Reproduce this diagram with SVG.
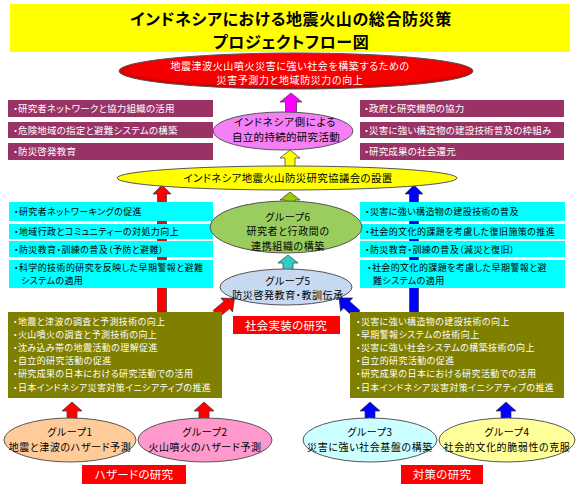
<svg xmlns="http://www.w3.org/2000/svg" width="580" height="487" viewBox="0 0 580 487">
<defs>
<radialGradient id="gRed" cx="50%" cy="45%" r="55%">
<stop offset="0%" stop-color="#ff0000"/><stop offset="85%" stop-color="#f20000"/><stop offset="100%" stop-color="#b00000"/>
</radialGradient>
<style>
text{font-family:"Noto Sans CJK JP","Noto Sans CJK SC",sans-serif;font-feature-settings:"palt";}
.w{fill:#fff;font-size:9px;letter-spacing:0.4px;}
.k{fill:#000;font-size:9px;letter-spacing:0.4px;}
.p{font-size:9.5px;letter-spacing:0.2px;}
.e{font-size:10px;letter-spacing:0.6px;}
.c{text-anchor:middle;}
.pur{fill:#993366;}
.cy{fill:#00ffff;}
.ol{fill:#808000;}
.lab{fill:#ff0000;}
.ell{stroke:#555;stroke-width:1;}
.arr{stroke:#333;stroke-width:0.7;}
</style>
</defs>
<rect width="580" height="487" fill="#fff"/>

<g id="title">
<rect x="10" y="4" width="560" height="48" fill="#ffff00"/>
<text x="291" y="24.5" class="c" style="font-size:16px;font-weight:bold;letter-spacing:0.6px">インドネシアにおける地震火山の総合防災策</text>
<text x="291" y="48" class="c" style="font-size:16px;font-weight:bold;letter-spacing:0.6px">プロジェクトフロー図</text>
</g>

<g id="connectors">
<polygon class="arr" fill="#ff00ff" points="291,93 302,102 296.5,102 296.5,113 285.5,113 285.5,102 280,102"/>
<polygon class="arr" fill="#ffff00" points="290,150 300,158 295,158 295,168 285,168 285,158 280,158"/>
<polygon class="arr" fill="#ff0000" points="162,185 171,194 166.5,194 166.5,312 157.5,312 157.5,194 153,194"/>
<polygon class="arr" fill="#0000ff" points="414,185 423,194 418.5,194 418.5,312 409.5,312 409.5,194 405,194"/>
<polygon class="arr" fill="#99cc00" points="290,192 300,200 295,200 295,204 285,204 285,200 280,200"/>
<polygon class="arr" fill="#33cccc" points="288,255 298,263 293,263 293,270 283,270 283,263 278,263"/>
<polygon class="arr" fill="#ff0000" transform="translate(216,314) rotate(50)" points="0,-24 9,-14 4.5,-14 4.5,0 -4.5,0 -4.5,-14 -9,-14"/>
<polygon class="arr" fill="#0000ff" transform="translate(357,314) rotate(-48)" points="0,-24 9,-14 4.5,-14 4.5,0 -4.5,0 -4.5,-14 -9,-14"/>
<polygon class="arr" fill="#ff0000" points="72,402 82,411 77,411 77,419 67,419 67,411 62,411"/>
<polygon class="arr" fill="#ff0000" points="204,402 214,411 209,411 209,419 199,419 199,411 194,411"/>
<polygon class="arr" fill="#0000ff" points="370,402 380,411 375,411 375,419 365,419 365,411 360,411"/>
<polygon class="arr" fill="#0000ff" points="506,402 516,411 511,411 511,419 501,419 501,411 496,411"/>
</g>

<g id="goal">
<ellipse cx="296" cy="71" rx="177" ry="18" fill="url(#gRed)" class="ell"/>
<text x="290" y="69.5" class="w c e">地震津波火山噴火災害に強い社会を構築するための</text>
<text x="290" y="84" class="w c e">災害予測力と地域防災力の向上</text>
</g>

<g id="left-purple">
<rect x="8" y="100" width="205" height="17" class="pur"/>
<rect x="8" y="122" width="205" height="16" class="pur"/>
<rect x="8" y="143" width="205" height="17" class="pur"/>
<text x="13" y="112" class="w p">・研究者ネットワークと協力組織の活用</text>
<text x="13" y="134" class="w p">・危険地域の指定と避難システムの構築</text>
<text x="13" y="155" class="w p">・防災啓発教育</text>
</g>

<g id="right-purple">
<rect x="360" y="100" width="204" height="17" class="pur"/>
<rect x="360" y="122" width="204" height="16" class="pur"/>
<rect x="360" y="143" width="204" height="17" class="pur"/>
<text x="364" y="112" class="w p">・政府と研究機関の協力</text>
<text x="364" y="134" class="w p">・災害に強い構造物の建設技術普及の枠組み</text>
<text x="364" y="155" class="w p">・研究成果の社会還元</text>
</g>

<g id="indonesia">
<ellipse cx="283" cy="131" rx="70" ry="19" fill="#f580f5" class="ell"/>
<text x="285" y="126" class="k c" style="font-size:10.5px;letter-spacing:0.7px">インドネシア側による</text>
<text x="286" y="141.4" class="k c" style="font-size:10.5px;letter-spacing:0.3px">自立的持続的研究活動</text>
</g>

<g id="council">
<ellipse cx="287" cy="178" rx="170" ry="12" fill="#ffff00" class="ell"/>
<text x="288" y="182" class="k c" style="font-size:10.5px;letter-spacing:0.3px">インドネシア地震火山防災研究協議会の設置</text>
</g>

<g id="left-cyan">
<rect x="9" y="202" width="204" height="19" class="cy"/>
<rect x="9" y="224" width="204" height="15" class="cy"/>
<rect x="9" y="241" width="204" height="16" class="cy"/>
<rect x="9" y="260" width="204" height="28" class="cy"/>
<text x="14" y="215" class="k">・研究者ネットワーキングの促進</text>
<text x="14" y="235" class="k">・地域行政とコミュニティーの対処力向上</text>
<text x="14" y="253" class="k">・防災教育・訓練の普及（予防と避難）</text>
<text x="14" y="270.5" class="k">・科学的技術的研究を反映した早期警報と避難</text>
<text x="21" y="283.7" class="k">システムの適用</text>
</g>

<g id="right-cyan">
<rect x="360" y="202" width="205" height="19" class="cy"/>
<rect x="360" y="224" width="205" height="15" class="cy"/>
<rect x="360" y="241" width="205" height="16" class="cy"/>
<rect x="360" y="260" width="205" height="28" class="cy"/>
<text x="365" y="215" class="k">・災害に強い構造物の建設技術の普及</text>
<text x="365" y="235" class="k">・社会的文化的課題を考慮した復旧施策の推進</text>
<text x="365" y="253" class="k">・防災教育・訓練の普及（減災と復旧）</text>
<text x="367" y="270.5" class="k">・社会的文化的課題を考慮した早期警報と避</text>
<text x="373" y="283.7" class="k">難システムの適用</text>
</g>

<g id="group6">
<ellipse cx="286" cy="227" rx="76" ry="26" fill="#9acd5e" class="ell"/>
<text x="288" y="220.5" class="k c e">グループ6</text>
<text x="288" y="235.2" class="k c e">研究者と行政間の</text>
<text x="288" y="249.9" class="k c e">連携組織の構築</text>
</g>

<g id="group5">
<ellipse cx="286" cy="287" rx="66" ry="18" fill="#c6d9f1" class="ell"/>
<text x="288" y="284.5" class="k c e">グループ5</text>
<text x="288" y="299.2" class="k c e">防災啓発教育・教訓伝承</text>
</g>

<g id="label-impl">
<rect x="233" y="316" width="107" height="18" class="lab"/>
<text x="286" y="329.5" class="w c" style="font-size:11.5px;letter-spacing:0.3px">社会実装の研究</text>
</g>

<g id="left-olive">
<rect x="8" y="312" width="214" height="86" class="ol"/>
<text x="13" y="324.5" class="w">・地震と津波の調査と予測技術の向上</text>
<text x="13" y="337.7" class="w">・火山噴火の調査と予測技術の向上</text>
<text x="13" y="350.9" class="w">・沈み込み帯の地震活動の理解促進</text>
<text x="13" y="364.1" class="w">・自立的研究活動の促進</text>
<text x="13" y="377.3" class="w">・研究成果の日本における研究活動での活用</text>
<text x="13" y="390.5" class="w">・日本インドネシア災害対策イニシアティブの推進</text>
</g>

<g id="right-olive">
<rect x="350" y="312" width="214" height="86" class="ol"/>
<text x="356" y="324.5" class="w">・災害に強い構造物の建設技術の向上</text>
<text x="356" y="337.7" class="w">・早期警報システムの技術向上</text>
<text x="356" y="350.9" class="w">・災害に強い社会システムの構築技術の向上</text>
<text x="356" y="364.1" class="w">・自立的研究活動の促進</text>
<text x="356" y="377.3" class="w">・研究成果の日本における研究活動での活用</text>
<text x="356" y="390.5" class="w">・日本インドネシア災害対策イニシアティブの推進</text>
</g>

<g id="group1">
<ellipse cx="70" cy="440" rx="66" ry="22" fill="#ffcc99" class="ell"/>
<text x="70" y="436" class="k c e">グループ1</text>
<text x="70" y="450.7" class="k c e">地震と津波のハザード予測</text>
</g>
<g id="group2">
<ellipse cx="205" cy="440" rx="67" ry="22" fill="#ff99cc" class="ell"/>
<text x="205" y="436" class="k c e">グループ2</text>
<text x="205" y="450.7" class="k c e">火山噴火のハザード予測</text>
</g>
<g id="group3">
<ellipse cx="370" cy="440" rx="67" ry="22" fill="#ccffff" class="ell"/>
<text x="370" y="436" class="k c e">グループ3</text>
<text x="370" y="450.7" class="k c e">災害に強い社会基盤の構築</text>
</g>
<g id="group4">
<ellipse cx="507" cy="440" rx="68" ry="22" fill="#ffff99" class="ell"/>
<text x="507" y="436" class="k c e">グループ4</text>
<text x="507" y="450.7" class="k c e">社会的文化的脆弱性の克服</text>
</g>

<g id="label-hazard">
<rect x="82" y="465" width="104" height="19" class="lab"/>
<text x="134" y="479" class="w c" style="font-size:11.5px;letter-spacing:0.3px">ハザードの研究</text>
</g>
<g id="label-measures">
<rect x="401" y="465" width="82" height="19" class="lab"/>
<text x="442" y="479" class="w c" style="font-size:11.5px;letter-spacing:0.3px">対策の研究</text>
</g>
</svg>
